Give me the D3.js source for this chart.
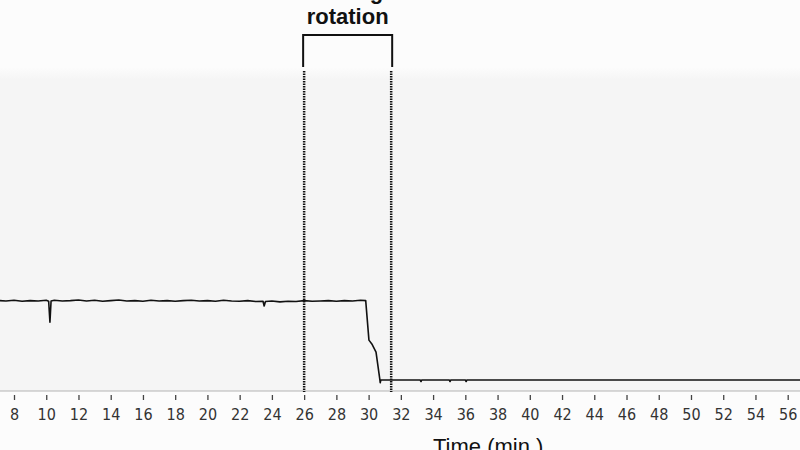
<!DOCTYPE html>
<html>
<head>
<meta charset="utf-8">
<script src="https://cdn.jsdelivr.net/npm/d3@7"></script>
<style>
  body { margin: 0; background: #fcfcfc; }
  svg { display: block; }
</style>
</head>
<body>
<div id="graph"></div>
<script>
// time axis (min.) and signal (arbitrary units)
const tickValues = d3.range(8, 57, 2);
const time = [7.1, 7.5, 8.0, 8.5, 9.0, 9.5, 10.0, 10.15, 10.23, 10.3, 10.5, 11.0, 11.5, 12.0, 12.5, 13.0,
  13.5, 14.0, 14.5, 15.0, 15.5, 16.0, 16.5, 17.0, 17.5, 18.0, 18.5, 19.0, 19.5, 20.0, 20.5, 21.0,
  21.5, 22.0, 22.5, 23.0, 23.45, 23.52, 23.6, 24.0, 24.5, 25.0, 25.5, 26.0, 26.5, 27.0, 27.5, 28.0,
  28.5, 29.0, 29.5, 29.82, 30.02, 30.2, 30.46, 30.7, 30.72, 30.76, 31.0, 33.2, 33.25, 33.3, 35.0, 35.05,
  35.1, 36.0, 36.05, 36.1, 57.6];
const signal = [28.6, 28.5, 28.7, 28.4, 28.6, 28.5, 28.7, 28.4, 21.8, 28.5, 28.7, 28.5, 28.6, 28.8, 28.5, 28.7,
  28.4, 28.6, 28.8, 28.5, 28.6, 28.4, 28.7, 28.5, 28.6, 28.4, 28.6, 28.7, 28.5, 28.6, 28.4, 28.7,
  28.5, 28.4, 28.6, 28.3, 28.4, 26.9, 28.3, 28.5, 28.2, 28.4, 28.3, 28.6, 28.4, 28.5, 28.6, 28.4,
  28.6, 28.5, 28.7, 28.6, 16.1, 14.9, 12.3, 3.5, 2.6, 3.5, 3.5, 3.5, 3.0, 3.5, 3.5, 3.0,
  3.5, 3.5, 3.0, 3.5, 3.5];
const rotationStart = 26;
const rotationEnd = 31.4;
const labelLines = ["During", "rotation"];
const xLabel = "Time (min.)";

const width = 800, height = 450;
const plotTop = 75, plotBottom = 391;

const svg = d3.select("#graph").append("svg")
  .attr("width", width)
  .attr("height", height);

const x = d3.scaleLinear().domain([8, 56]).range([14, 787.7]);
const y = d3.scaleLinear().domain([0, 100]).range([plotBottom, plotTop]);

// backgrounds
const defs = svg.append("defs");
const grad = defs.append("linearGradient")
  .attr("id", "bg").attr("x1", 0).attr("x2", 0).attr("y1", 0).attr("y2", 1);
grad.append("stop").attr("offset", "0%").attr("stop-color", "#fcfcfc");
grad.append("stop").attr("offset", "4%").attr("stop-color", "#f5f5f5");
grad.append("stop").attr("offset", "100%").attr("stop-color", "#f5f5f5");

svg.append("rect").attr("width", width).attr("height", height).attr("fill", "#fcfcfc");
svg.append("rect")
  .attr("x", 0).attr("y", plotTop - 8)
  .attr("width", width).attr("height", plotBottom - plotTop + 8)
  .attr("fill", "url(#bg)");

// axis
const axis = svg.append("g")
  .attr("transform", `translate(0,${plotBottom})`)
  .call(d3.axisBottom(x).tickValues(tickValues).tickSize(0).tickPadding(18).tickFormat(d3.format("d")));
axis.select(".domain").remove();
axis.append("line")
  .attr("x1", 0).attr("x2", width)
  .attr("stroke", "#b4b4b4").attr("stroke-width", 1.2);
axis.selectAll(".tick").append("line")
  .attr("y1", 4).attr("y2", 9)
  .attr("stroke", "#444").attr("stroke-width", 1.3);
axis.selectAll(".tick text")
  .attr("fill", "#333")
  .style("font-family", "'Liberation Sans Narrow', 'DejaVu Sans Condensed', sans-serif")
  .style("font-size", "16px");

svg.append("text")
  .attr("x", 433).attr("y", 454)
  .attr("fill", "#111")
  .style("font-family", "'Liberation Sans', Arial, sans-serif")
  .style("font-size", "22px")
  .text(xLabel);

// trace
const line = d3.line()
  .x((d, i) => x(time[i]))
  .y(d => y(d));

svg.append("path")
  .datum(signal)
  .attr("d", line)
  .attr("fill", "none")
  .attr("stroke", "#111")
  .attr("stroke-width", 1.6)
  .attr("stroke-linejoin", "round");

// rotation markers
[rotationStart, rotationEnd].forEach(t => {
  svg.append("line")
    .attr("x1", x(t)).attr("x2", x(t))
    .attr("y1", 71).attr("y2", plotBottom + 1)
    .attr("stroke", "#111")
    .attr("stroke-width", 2.5)
    .attr("stroke-dasharray", "1.5,1");
});

svg.append("path")
  .attr("d", `M${x(rotationStart) - 1},67 V35 H${x(rotationEnd) + 1} V67`)
  .attr("fill", "none")
  .attr("stroke", "#111")
  .attr("stroke-width", 2);

const mid = (x(rotationStart) + x(rotationEnd)) / 2;
svg.selectAll(".lbl")
  .data(labelLines)
  .enter().append("text")
  .attr("x", mid)
  .attr("y", (d, i) => -1 + i * 25)
  .attr("text-anchor", "middle")
  .attr("fill", "#111")
  .style("font-family", "'Liberation Sans', Arial, sans-serif")
  .style("font-weight", "bold")
  .style("font-size", "22px")
  .text(d => d);
</script>
</body>
</html>
